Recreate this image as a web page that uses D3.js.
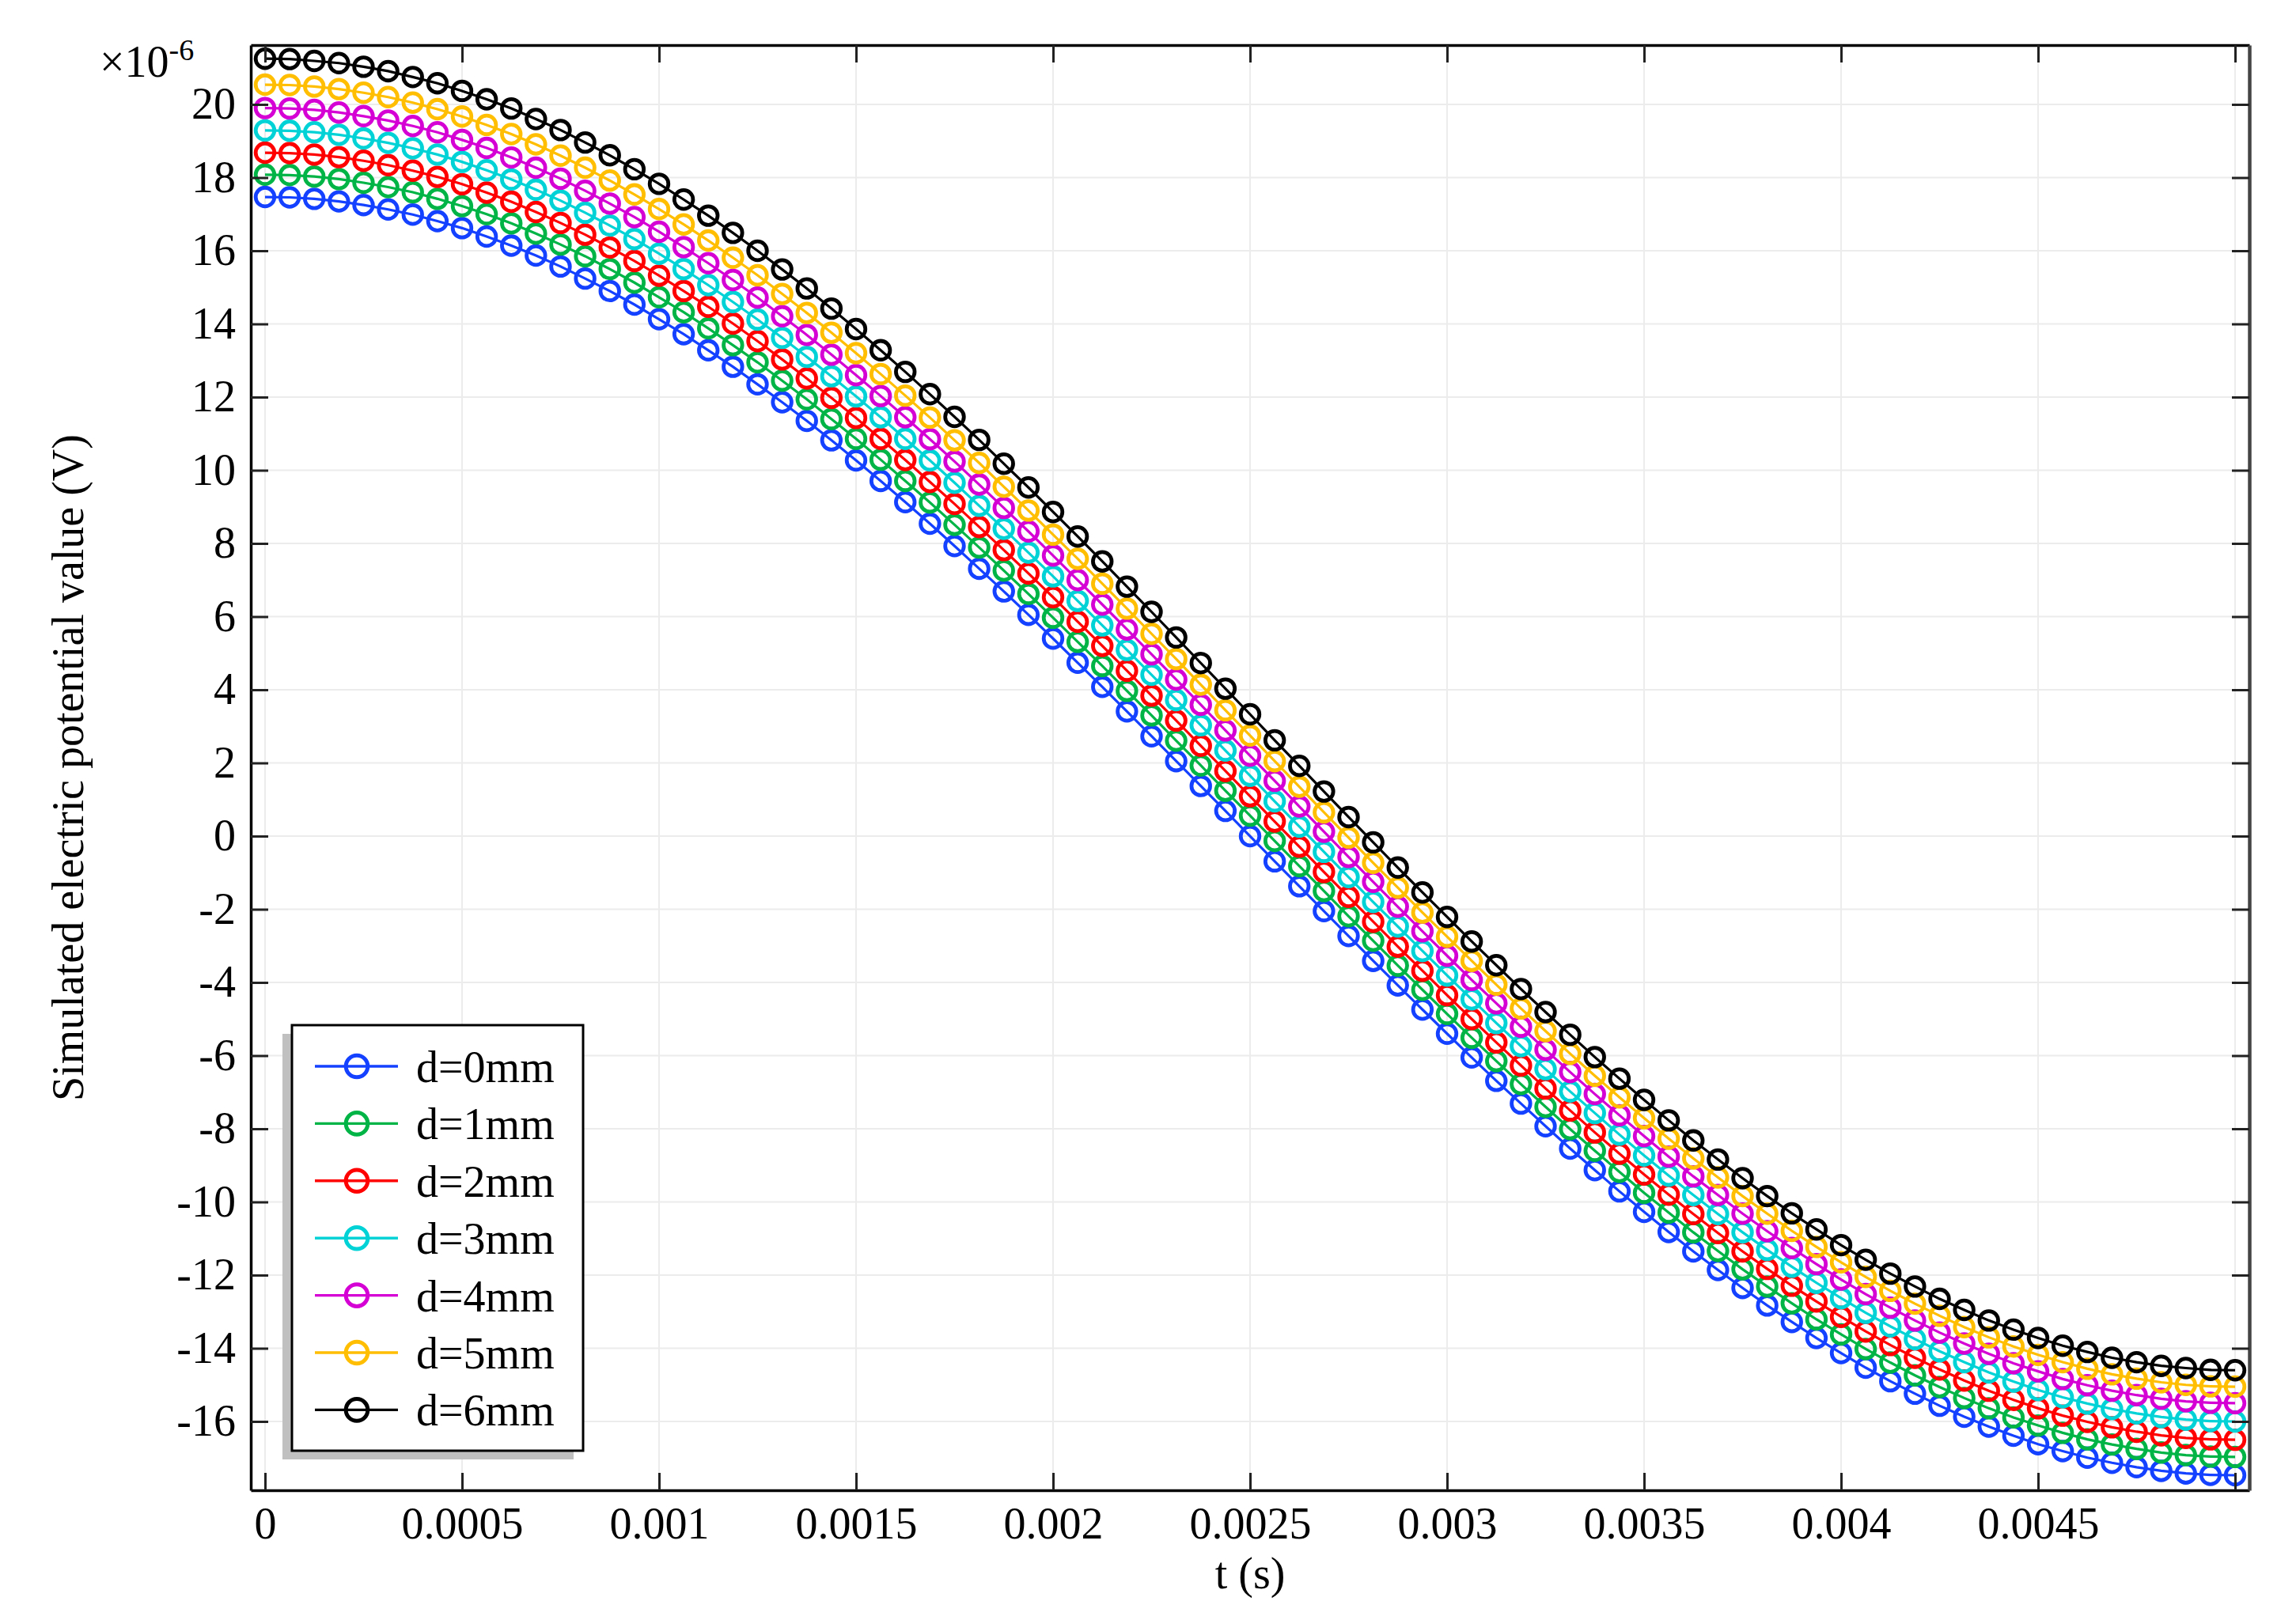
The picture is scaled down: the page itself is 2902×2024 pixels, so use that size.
<!DOCTYPE html>
<html><head><meta charset="utf-8">
<script src="https://cdn.jsdelivr.net/npm/d3@7"></script>
<style>body{margin:0;background:#fff}</style>
</head><body>
<svg id="c" width="2902" height="2024" xmlns="http://www.w3.org/2000/svg"></svg>
<script>
// ---------- data ----------
const tValues = [0,0.0000625,0.000125,0.0001875,0.00025,0.0003125,0.000375,0.0004375,0.0005,0.0005625,0.000625,0.0006875,0.00075,0.0008125,0.000875,0.0009375,
0.001,0.0010625,0.001125,0.0011875,0.00125,0.0013125,0.001375,0.0014375,0.0015,0.0015625,0.001625,0.0016875,0.00175,0.0018125,0.001875,0.0019375,
0.002,0.0020625,0.002125,0.0021875,0.00225,0.0023125,0.002375,0.0024375,0.0025,0.0025625,0.002625,0.0026875,0.00275,0.0028125,0.002875,0.0029375,
0.003,0.0030625,0.003125,0.0031875,0.00325,0.0033125,0.003375,0.0034375,0.0035,0.0035625,0.003625,0.0036875,0.00375,0.0038125,0.003875,0.0039375,
0.004,0.0040625,0.004125,0.0041875,0.00425,0.0043125,0.004375,0.0044375,0.0045,0.0045625,0.004625,0.0046875,0.00475,0.0048125,0.004875,0.0049375,0.005];

const seriesNames = ["d=0mm","d=1mm","d=2mm","d=3mm","d=4mm","d=5mm","d=6mm"];
const seriesColors = ["#1440ff","#00b446","#ff0000","#00d2d6","#d400d4","#ffbe00","#000000"];

const d0 = [17.47,17.46,17.42,17.35,17.25,17.13,16.99,16.81,16.62,16.39,16.14,15.87,15.57,15.24,14.90,14.53,14.13,13.72,13.28,12.83,12.35,11.86,11.35,10.82,10.27,9.71,9.13,8.54,7.93,7.31,6.69,6.05,5.40,4.74,4.08,3.41,2.73,2.05,1.37,0.69,0.00,
-0.69,-1.37,-2.05,-2.73,-3.41,-4.08,-4.74,-5.40,-6.05,-6.69,-7.31,-7.93,-8.54,-9.13,-9.71,-10.27,-10.82,-11.35,-11.86,-12.35,-12.83,-13.28,-13.72,-14.13,-14.53,-14.90,-15.24,-15.57,-15.87,-16.14,-16.39,-16.62,-16.81,-16.99,-17.13,-17.25,-17.35,-17.42,-17.46,-17.47];
const d1 = [18.08,18.07,18.03,17.96,17.86,17.74,17.60,17.42,17.22,17.00,16.75,16.47,16.17,15.85,15.50,15.13,14.73,14.32,13.88,13.42,12.95,12.45,11.94,11.40,10.86,10.29,9.71,9.12,8.51,7.89,7.26,6.62,5.97,5.31,4.65,3.97,3.30,2.61,1.93,1.24,0.56,
-0.13,-0.82,-1.50,-2.19,-2.86,-3.54,-4.20,-4.86,-5.51,-6.15,-6.78,-7.40,-8.01,-8.60,-9.18,-9.75,-10.29,-10.83,-11.34,-11.84,-12.31,-12.77,-13.21,-13.62,-14.02,-14.39,-14.74,-15.06,-15.36,-15.64,-15.89,-16.11,-16.31,-16.49,-16.63,-16.75,-16.85,-16.92,-16.96,-16.97];
const d2 = [18.68,18.67,18.63,18.56,18.46,18.34,18.19,18.02,17.82,17.59,17.34,17.06,16.76,16.44,16.09,15.72,15.32,14.90,14.47,14.01,13.53,13.03,12.51,11.98,11.43,10.86,10.28,9.68,9.08,8.45,7.82,7.18,6.53,5.86,5.20,4.52,3.84,3.16,2.47,1.78,1.09,
0.40,-0.29,-0.98,-1.66,-2.34,-3.02,-3.68,-4.35,-5.00,-5.64,-6.27,-6.90,-7.50,-8.10,-8.68,-9.25,-9.80,-10.33,-10.85,-11.35,-11.83,-12.29,-12.72,-13.14,-13.54,-13.91,-14.26,-14.58,-14.88,-15.16,-15.41,-15.64,-15.84,-16.01,-16.16,-16.28,-16.38,-16.45,-16.49,-16.50];
const d3v = [19.29,19.28,19.24,19.17,19.07,18.95,18.80,18.63,18.43,18.20,17.95,17.67,17.37,17.04,16.69,16.32,15.92,15.50,15.06,14.60,14.12,13.62,13.10,12.57,12.02,11.45,10.86,10.27,9.66,9.03,8.40,7.75,7.10,6.43,5.76,5.09,4.41,3.72,3.03,2.34,1.65,
0.95,0.26,-0.43,-1.12,-1.80,-2.47,-3.14,-3.81,-4.46,-5.11,-5.74,-6.37,-6.98,-7.57,-8.16,-8.73,-9.28,-9.81,-10.33,-10.83,-11.31,-11.77,-12.21,-12.63,-13.03,-13.40,-13.75,-14.08,-14.38,-14.66,-14.91,-15.14,-15.34,-15.51,-15.66,-15.78,-15.88,-15.95,-15.99,-16.00];
const d4 = [19.90,19.89,19.85,19.78,19.68,19.56,19.41,19.24,19.03,18.81,18.55,18.27,17.97,17.64,17.29,16.92,16.52,16.10,15.66,15.20,14.72,14.21,13.70,13.16,12.60,12.03,11.45,10.85,10.24,9.61,8.97,8.33,7.67,7.00,6.33,5.65,4.97,4.28,3.59,2.89,2.20,
1.51,0.81,0.12,-0.57,-1.25,-1.93,-2.60,-3.27,-3.93,-4.57,-5.21,-5.84,-6.45,-7.05,-7.63,-8.20,-8.76,-9.30,-9.81,-10.32,-10.80,-11.26,-11.70,-12.12,-12.52,-12.89,-13.24,-13.57,-13.87,-14.15,-14.41,-14.63,-14.84,-15.01,-15.16,-15.28,-15.38,-15.45,-15.49,-15.50];
const d5 = [20.54,20.53,20.49,20.42,20.32,20.20,20.05,19.87,19.67,19.44,19.19,18.91,18.60,18.27,17.92,17.54,17.14,16.72,16.28,15.81,15.33,14.82,14.30,13.76,13.20,12.63,12.04,11.44,10.82,10.20,9.55,8.90,8.24,7.58,6.90,6.22,5.53,4.84,4.14,3.44,2.75,
2.05,1.35,0.65,-0.04,-0.73,-1.41,-2.09,-2.75,-3.41,-4.06,-4.71,-5.33,-5.95,-6.55,-7.14,-7.71,-8.27,-8.81,-9.33,-9.84,-10.32,-10.79,-11.23,-11.65,-12.05,-12.43,-12.78,-13.11,-13.42,-13.70,-13.95,-14.18,-14.38,-14.56,-14.71,-14.83,-14.93,-15.00,-15.04,-15.05];
const d6 = [21.25,21.24,21.19,21.13,21.03,20.91,20.75,20.58,20.37,20.14,19.89,19.60,19.30,18.96,18.61,18.23,17.83,17.40,16.96,16.49,16.00,15.49,14.97,14.42,13.86,13.28,12.69,12.08,11.46,10.83,10.18,9.53,8.86,8.19,7.51,6.82,6.13,5.43,4.73,4.03,3.33,
2.62,1.92,1.22,0.52,-0.17,-0.86,-1.54,-2.21,-2.88,-3.53,-4.18,-4.81,-5.43,-6.04,-6.63,-7.21,-7.77,-8.32,-8.84,-9.35,-9.84,-10.31,-10.75,-11.18,-11.58,-11.96,-12.31,-12.65,-12.95,-13.24,-13.49,-13.72,-13.93,-14.10,-14.26,-14.38,-14.48,-14.54,-14.59,-14.60];

const xTicks = [0,0.0005,0.001,0.0015,0.002,0.0025,0.003,0.0035,0.004,0.0045,0.005];
const xTickLabels = ["0","0.0005","0.001","0.0015","0.002","0.0025","0.003","0.0035","0.004","0.0045",""];
const yTicks = [-16,-14,-12,-10,-8,-6,-4,-2,0,2,4,6,8,10,12,14,16,18,20];
const yTickLabels = ["-16","-14","-12","-10","-8","-6","-4","-2","0","2","4","6","8","10","12","14","16","18","20"];
const xTitle = "t (s)";
const yTitle = "Simulated electric potential value (V)";
const yExponent = ["\u00d710","-6"];

// ---------- layout ----------
const FONT = "'Liberation Serif','Times New Roman',serif";
const L = 317, R = 2843, T = 57, B = 1884;
const x = d3.scaleLinear().domain([-0.0000361, 0.0050361]).range([L, R]);
const y = d3.scaleLinear().domain([-17.881, 21.622]).range([B, T]);

const svg = d3.select("#c");
svg.append("rect").attr("width",2902).attr("height",2024).attr("fill","#fff");

svg.append("defs").append("clipPath").attr("id","clip")
  .append("rect").attr("x",L).attr("y",T).attr("width",R-L).attr("height",B-T);

// grid
const grid = svg.append("g");
grid.selectAll("line.v").data(xTicks).enter().append("line")
  .attr("x1",d=>x(d)).attr("x2",d=>x(d)).attr("y1",T).attr("y2",B)
  .attr("stroke","#ececec").attr("stroke-width",2);
grid.selectAll("line.h").data(yTicks).enter().append("line")
  .attr("x1",L).attr("x2",R).attr("y1",d=>y(d)).attr("y2",d=>y(d))
  .attr("stroke","#ececec").attr("stroke-width",2);

// series
const allSeries = [d0,d1,d2,d3v,d4,d5,d6];
const plotG = svg.append("g").attr("clip-path","url(#clip)");
const line = d3.line().x((d,i)=>x(tValues[i])).y(d=>y(d));
allSeries.forEach((vals,si)=>{
  const g = plotG.append("g");
  g.append("path").datum(vals).attr("d",line).attr("fill","none")
    .attr("stroke",seriesColors[si]).attr("stroke-width",3.2);
  g.selectAll("circle").data(vals).enter().append("circle")
    .attr("cx",(d,i)=>x(tValues[i])).attr("cy",d=>y(d)).attr("r",11.8)
    .attr("fill","none").attr("stroke",seriesColors[si]).attr("stroke-width",4.8);
});

// axes
function styleAxis(g, color, width){
  g.select(".domain").attr("stroke",color).attr("stroke-width",width);
  g.selectAll(".tick line").attr("stroke","#222").attr("stroke-width",3);
  g.selectAll("text").attr("font-family",FONT).attr("font-size",56).attr("fill","#000");
}
const gb = svg.append("g").attr("transform",`translate(0,${B})`)
  .call(d3.axisBottom(x).tickValues(xTicks).tickSize(-22).tickSizeOuter(0)
        .tickFormat((d,i)=>xTickLabels[i]));
styleAxis(gb,"#000",3.5);
gb.selectAll("text").attr("dy",null).attr("y",61);

const gt = svg.append("g").attr("transform",`translate(0,${T})`)
  .call(d3.axisTop(x).tickValues(xTicks).tickSize(-22).tickSizeOuter(0).tickFormat(""));
styleAxis(gt,"#000",3.5);

const gl = svg.append("g").attr("transform",`translate(${L},0)`)
  .call(d3.axisLeft(y).tickValues(yTicks).tickSize(-22).tickSizeOuter(0).tickPadding(19)
        .tickFormat((d,i)=>yTickLabels[i]));
styleAxis(gl,"#000",3.5);

const gr = svg.append("g").attr("transform",`translate(${R},0)`)
  .call(d3.axisRight(y).tickValues(yTicks).tickSize(-22).tickSizeOuter(0).tickFormat(""));
styleAxis(gr,"#444",4.5);

// exponent label
const ex = svg.append("text").attr("x",126).attr("y",97)
  .attr("font-family",FONT).attr("font-size",56).attr("fill","#000");
ex.append("tspan").text(yExponent[0]);
ex.append("tspan").attr("font-size",38).attr("dy",-21).text(yExponent[1]);

// titles
svg.append("text").attr("x",(L+R)/2).attr("y",2008).attr("text-anchor","middle")
  .attr("font-family",FONT).attr("font-size",56).text(xTitle);
svg.append("text").attr("transform",`translate(105,${(T+B)/2}) rotate(-90)`)
  .attr("text-anchor","middle").attr("font-family",FONT).attr("font-size",56).text(yTitle);

// legend
const lg = svg.append("g");
lg.append("rect").attr("x",357).attr("y",1307).attr("width",368).attr("height",538).attr("fill","#c0c0c0");
lg.append("rect").attr("x",369).attr("y",1296).attr("width",368).attr("height",538)
  .attr("fill","#fff").attr("stroke","#000").attr("stroke-width",3);
seriesNames.forEach((name,i)=>{
  const cy = 1348 + i*72.4;
  lg.append("line").attr("x1",398).attr("x2",503).attr("y1",cy).attr("y2",cy)
    .attr("stroke",seriesColors[i]).attr("stroke-width",3.4);
  lg.append("circle").attr("cx",451).attr("cy",cy).attr("r",13.8)
    .attr("fill","none").attr("stroke",seriesColors[i]).attr("stroke-width",5);
  lg.append("text").attr("x",526).attr("y",cy+20).attr("font-family",FONT)
    .attr("font-size",56).attr("fill","#000").text(name);
});
</script>
</body></html>
